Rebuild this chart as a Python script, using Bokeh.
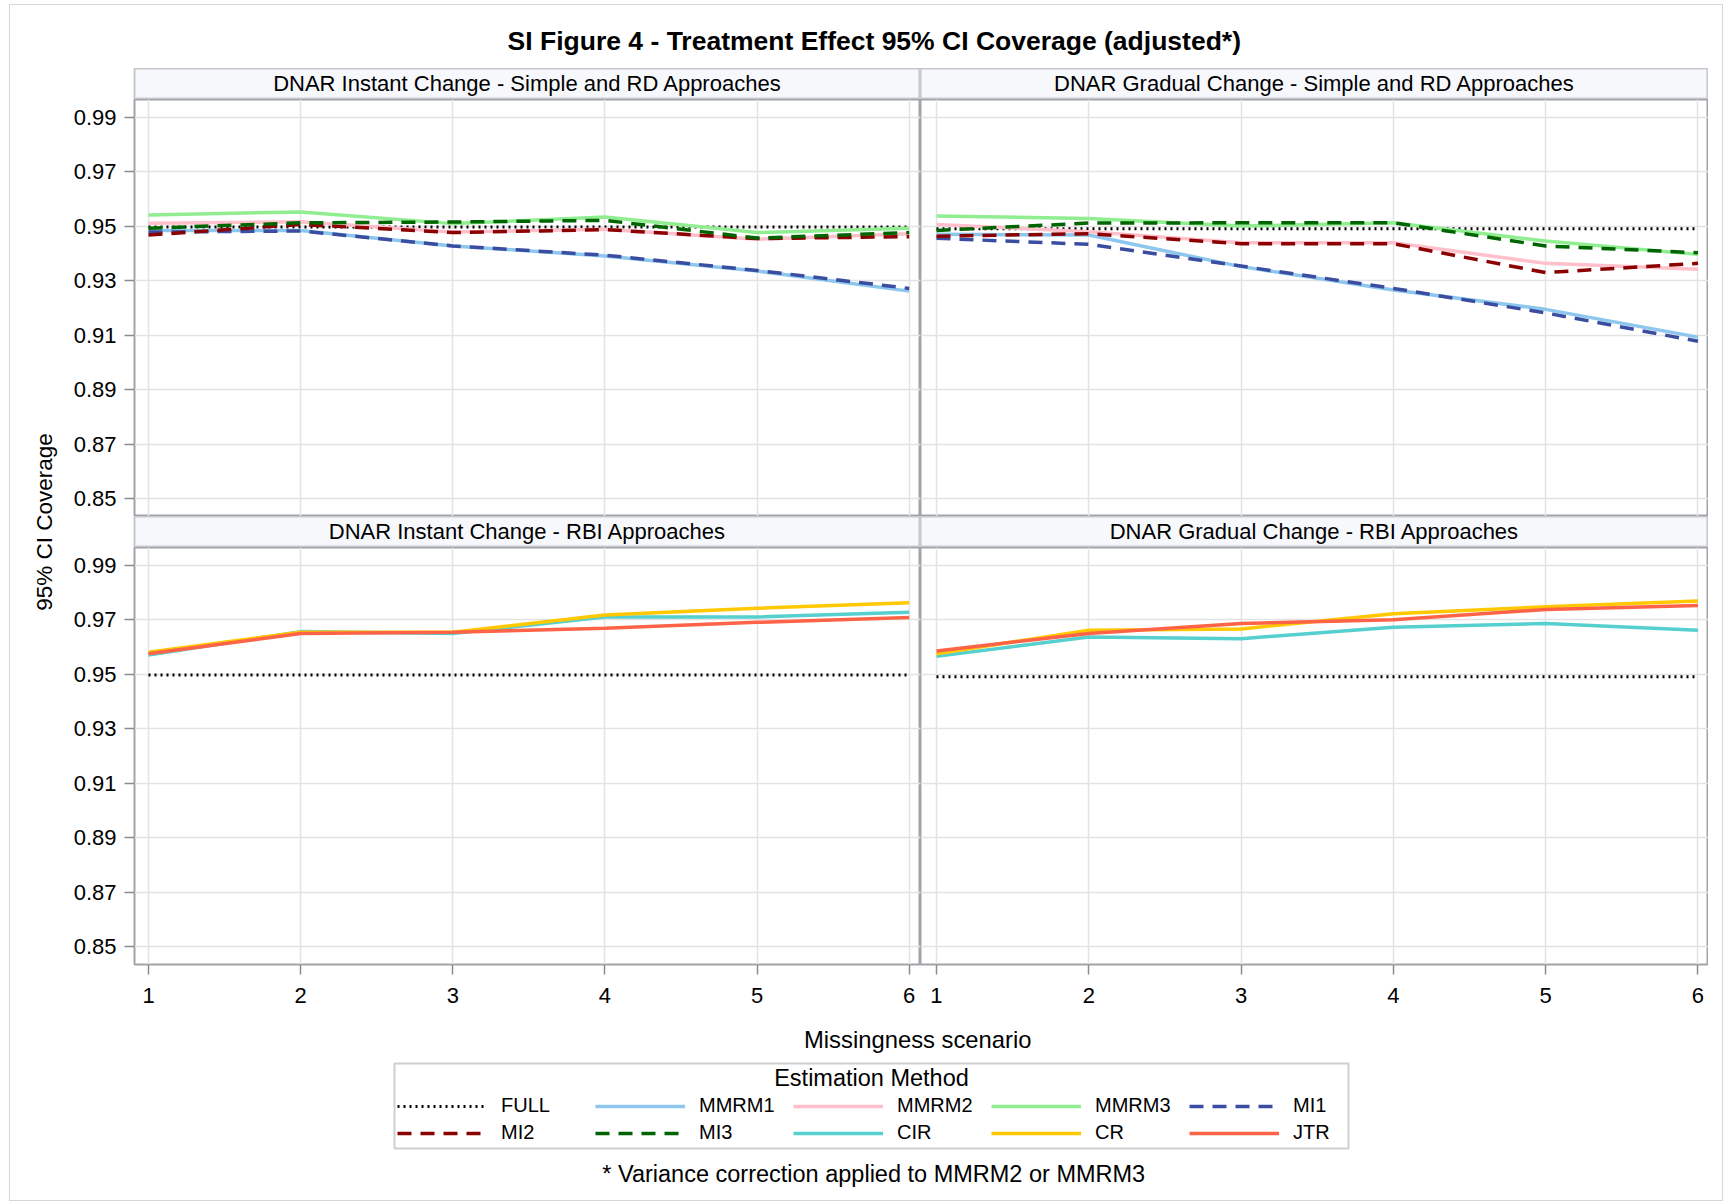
import math
from bokeh.plotting import figure
from bokeh.layouts import column, row
from bokeh.models import Range1d, FixedTicker, PrintfTickFormatter, Label, Legend, LegendItem
from bokeh.embed import file_html
from bokeh.resources import INLINE

FONT = "Liberation Sans"

# ---------------- data ----------------
scenario = [1, 2, 3, 4, 5, 6]
y_ticks = [0.85, 0.87, 0.89, 0.91, 0.93, 0.95, 0.97, 0.99]

methods = ["FULL", "MMRM1", "MMRM2", "MMRM3", "MI1", "MI2", "MI3", "CIR", "CR", "JTR"]

panel_titles = [
    "DNAR Instant Change - Simple and RD Approaches",
    "DNAR Gradual Change - Simple and RD Approaches",
    "DNAR Instant Change - RBI Approaches",
    "DNAR Gradual Change - RBI Approaches",
]

# DNAR Instant Change - Simple and RD
inst_full = [0.9498, 0.9498, 0.9498, 0.9498, 0.9498, 0.9498]
inst_mmrm1 = [0.9485, 0.9485, 0.9428, 0.9391, 0.9336, 0.9262]
inst_mmrm2 = [0.9511, 0.9517, 0.9479, 0.9489, 0.9453, 0.9473]
inst_mmrm3 = [0.9542, 0.9553, 0.9510, 0.9534, 0.9477, 0.9493]
inst_mi1 = [0.9479, 0.9483, 0.9428, 0.9394, 0.9338, 0.9272]
inst_mi2 = [0.9468, 0.9507, 0.9477, 0.9488, 0.9455, 0.9462]
inst_mi3 = [0.9493, 0.9513, 0.9516, 0.9522, 0.9457, 0.9477]

# DNAR Gradual Change - Simple and RD
grad_full = [0.9491, 0.9491, 0.9491, 0.9491, 0.9491, 0.9491]
grad_mmrm1 = [0.9471, 0.9468, 0.9352, 0.9266, 0.9195, 0.9093]
grad_mmrm2 = [0.9507, 0.9480, 0.9440, 0.9440, 0.9364, 0.9342]
grad_mmrm3 = [0.9538, 0.9529, 0.9501, 0.9513, 0.9446, 0.9397]
grad_mi1 = [0.9456, 0.9434, 0.9354, 0.9272, 0.9182, 0.9078]
grad_mi2 = [0.9464, 0.9473, 0.9436, 0.9436, 0.9330, 0.9364]
grad_mi3 = [0.9485, 0.9512, 0.9513, 0.9513, 0.9428, 0.9403]

# DNAR Instant Change - RBI
inst_cir = [0.9571, 0.9657, 0.9650, 0.9711, 0.9711, 0.9728]
inst_cr = [0.9581, 0.9655, 0.9655, 0.9718, 0.9743, 0.9763]
inst_jtr = [0.9576, 0.9650, 0.9655, 0.9669, 0.9691, 0.9709]

# DNAR Gradual Change - RBI
grad_cir = [0.9566, 0.9637, 0.9631, 0.9673, 0.9687, 0.9662]
grad_cr = [0.9576, 0.9662, 0.9667, 0.9723, 0.9748, 0.9769]
grad_jtr = [0.9586, 0.9650, 0.9687, 0.9701, 0.9738, 0.9753]

# ---------------- styles ----------------
colors = {
    "FULL": "#000000", "MMRM1": "#8DC7EE", "MMRM2": "#FFC0CB", "MMRM3": "#90EE90",
    "MI1": "#3A4DA0", "MI2": "#8B0000", "MI3": "#006400",
    "CIR": "#56D0CE", "CR": "#FFC800", "JTR": "#FF6347",
}
dashes = {
    "FULL": "2 4", "MMRM1": "solid", "MMRM2": "solid", "MMRM3": "solid",
    "MI1": "14 9", "MI2": "14 9", "MI3": "14 9",
    "CIR": "solid", "CR": "solid", "JTR": "solid",
}
widths = {m: 3.5 for m in methods}
widths["FULL"] = 3

FRAME = "#a0a4a8"
HDR_LINE = "#c6c8cc"
HDR_FILL = "#f7f8fc"
GRID = "#e3e3e3"
TICK = "#8c8c8c"

Y_RANGE = (0.8434, 0.9966)
X_RANGE_L = (0.908, 6.074)
X_RANGE_R = (0.895, 6.069)
LEFT_PAD = 63
FRAME_W_L = 787
FRAME_W_R = 788
FRAME_H = 417
HDR_H = 31
X_AXIS_H = 50
FULL_W = 1712


def style_axis(ax):
    ax.axis_line_color = None
    ax.major_tick_line_color = TICK
    ax.major_tick_line_width = 1.5
    ax.major_tick_in = 0
    ax.major_tick_out = 10
    ax.minor_tick_line_color = None
    ax.major_label_text_font = FONT
    ax.major_label_text_font_size = "22px"
    ax.major_label_text_color = "black"


def make_panel(series, xr, show_y, show_x):
    pad = LEFT_PAD if show_y else 0
    fw = FRAME_W_L if show_y else FRAME_W_R
    h = FRAME_H + (X_AXIS_H if show_x else 0)
    p = figure(width=pad + fw, height=h,
               x_range=Range1d(*xr), y_range=Range1d(*Y_RANGE),
               x_axis_location="below" if show_x else None,
               y_axis_location="left" if show_y else None,
               output_backend="svg", toolbar_location=None,
               min_border=0, min_border_left=pad, min_border_right=0,
               min_border_top=0, min_border_bottom=X_AXIS_H if show_x else 0)
    p.outline_line_color = FRAME
    p.outline_line_width = 2
    p.background_fill_color = "white"
    p.border_fill_color = "white"
    p.xgrid.ticker = FixedTicker(ticks=scenario)
    p.ygrid.ticker = FixedTicker(ticks=y_ticks)
    p.xgrid.grid_line_color = GRID
    p.ygrid.grid_line_color = GRID
    p.xgrid.grid_line_width = 1.5
    p.ygrid.grid_line_width = 1.5
    for m, vals in series:
        p.line(scenario, vals, line_color=colors[m], line_width=widths[m],
               line_dash=dashes[m])
    if show_y:
        ax = p.yaxis[0]
        ax.ticker = FixedTicker(ticks=y_ticks)
        ax.formatter = PrintfTickFormatter(format="%.2f")
        style_axis(ax)
        ax.major_label_standoff = 8
    if show_x:
        ax = p.xaxis[0]
        ax.ticker = FixedTicker(ticks=scenario)
        ax.formatter = PrintfTickFormatter(format="%d")
        style_axis(ax)
        ax.major_label_standoff = 13
    return p


def make_header(text, show_y):
    pad = LEFT_PAD if show_y else 0
    fw = FRAME_W_L if show_y else FRAME_W_R
    p = figure(width=pad + fw, height=HDR_H,
               x_range=Range1d(0, 1), y_range=Range1d(0, HDR_H),
               x_axis_location=None, y_axis_location=None,
               output_backend="svg", toolbar_location=None,
               min_border=0, min_border_left=pad, min_border_right=0,
               min_border_top=0, min_border_bottom=0)
    p.grid.visible = False
    p.background_fill_color = HDR_FILL
    p.border_fill_color = "white"
    p.outline_line_color = HDR_LINE
    p.outline_line_width = 2
    p.add_layout(Label(x=0.5, y=16.0, text=text, text_align="center",
                       text_baseline="alphabetic", text_font=FONT,
                       text_font_size="22px", text_color="black"))
    return p


def blank(width, height, xr=None, yr=None, **kw):
    p = figure(width=width, height=height,
               x_range=Range1d(*(xr or (0, width))), y_range=Range1d(*(yr or (0, height))),
               x_axis_location=None, y_axis_location=None,
               output_backend="svg", toolbar_location=None,
               min_border=0, **kw)
    p.grid.visible = False
    p.outline_line_color = None
    p.border_fill_color = "white"
    p.background_fill_color = "white"
    return p


# ---------------- panels ----------------
tl_series = [("FULL", inst_full), ("MMRM1", inst_mmrm1), ("MMRM2", inst_mmrm2),
             ("MMRM3", inst_mmrm3), ("MI1", inst_mi1), ("MI2", inst_mi2), ("MI3", inst_mi3)]
tr_series = [("FULL", grad_full), ("MMRM1", grad_mmrm1), ("MMRM2", grad_mmrm2),
             ("MMRM3", grad_mmrm3), ("MI1", grad_mi1), ("MI2", grad_mi2), ("MI3", grad_mi3)]
bl_series = [("FULL", inst_full), ("CIR", inst_cir), ("CR", inst_cr), ("JTR", inst_jtr)]
br_series = [("FULL", grad_full), ("CIR", grad_cir), ("CR", grad_cr), ("JTR", grad_jtr)]

p_tl = make_panel(tl_series, X_RANGE_L, True, False)
p_tr = make_panel(tr_series, X_RANGE_R, False, False)
p_bl = make_panel(bl_series, X_RANGE_L, True, True)
p_br = make_panel(br_series, X_RANGE_R, False, True)

h_tl = make_header(panel_titles[0], True)
h_tr = make_header(panel_titles[1], False)
h_bl = make_header(panel_titles[2], True)
h_br = make_header(panel_titles[3], False)

grid_h = 2 * HDR_H + 2 * FRAME_H + X_AXIS_H

# title
title_fig = blank(FULL_W, 63)
title_fig.add_layout(Label(x=861, y=28.0, text="SI Figure 4 - Treatment Effect 95% CI Coverage (adjusted*)",
                           text_align="center", text_baseline="alphabetic", text_font=FONT,
                           text_font_size="26.5px", text_font_style="bold", text_color="black"))

# y axis label
ylab_fig = blank(60, grid_h)
ylab_fig.add_layout(Label(x=34, y=grid_h - 453.5, text="95% CI Coverage", angle=math.pi / 2,
                          text_align="center", text_baseline="alphabetic", text_font=FONT,
                          text_font_size="22.5px", text_color="black"))

# x axis label
xlab_fig = blank(FULL_W, 46)
xlab_fig.add_layout(Label(x=939, y=20.9, text="Missingness scenario", text_align="center",
                          text_baseline="alphabetic", text_font=FONT, text_font_size="23.8px",
                          text_color="black"))

# legend
LEG_FW, LEG_FH = 954, 85
leg_fig = blank(FULL_W, 92, xr=(0, LEG_FW), yr=(0, LEG_FH),
                min_border_left=384, min_border_right=FULL_W - 384 - LEG_FW,
                min_border_top=3, min_border_bottom=4)
leg_fig.outline_line_color = "#cfcfcf"
leg_fig.outline_line_width = 2
leg_fig.extra_x_ranges = {"offframe": Range1d(-100, -90)}
legend_series = {"FULL": inst_full, "MMRM1": inst_mmrm1, "MMRM2": inst_mmrm2,
                 "MMRM3": inst_mmrm3, "MI1": inst_mi1, "MI2": inst_mi2, "MI3": inst_mi3,
                 "CIR": inst_cir, "CR": inst_cr, "JTR": inst_jtr}
leg_items = []
for m in methods:
    r = leg_fig.line(scenario, legend_series[m], x_range_name="offframe",
                     line_color=colors[m], line_width=widths[m], line_dash=dashes[m])
    leg_items.append(LegendItem(label=m, renderers=[r]))
legend = Legend(items=leg_items, location=(3, 4), orientation="horizontal", ncols=5,
                glyph_width=90, glyph_height=20, label_standoff=14, label_width=90,
                label_height=20, spacing=4, padding=0, margin=0,
                border_line_color=None, background_fill_alpha=0,
                label_text_font=FONT, label_text_font_size="20px", label_text_color="black")
leg_fig.add_layout(legend)
leg_fig.add_layout(Label(x=LEG_FW / 2, y=70.5, text="Estimation Method", text_align="center",
                         text_baseline="alphabetic", text_font=FONT, text_font_size="23.5px",
                         text_color="black"))

# footnote
foot_fig = blank(FULL_W, 48)
foot_fig.add_layout(Label(x=860, y=26.6, text="* Variance correction applied to MMRM2 or MMRM3",
                          text_align="center", text_baseline="alphabetic", text_font=FONT,
                          text_font_size="23.5px", text_color="black"))

left_col = column(h_tl, p_tl, h_bl, p_bl, spacing=0)
right_col = column(h_tr, p_tr, h_br, p_br, spacing=0)
mid = row(ylab_fig, left_col, right_col, spacing=0)
root = column(title_fig, mid, xlab_fig, leg_fig, foot_fig, spacing=0,
              styles={"border": "1px solid #d6d6d6", "margin-top": "4px", "margin-left": "9px"})

with open("out.html", "w") as f:
    f.write(file_html(root, INLINE, title="SI Figure 4"))
